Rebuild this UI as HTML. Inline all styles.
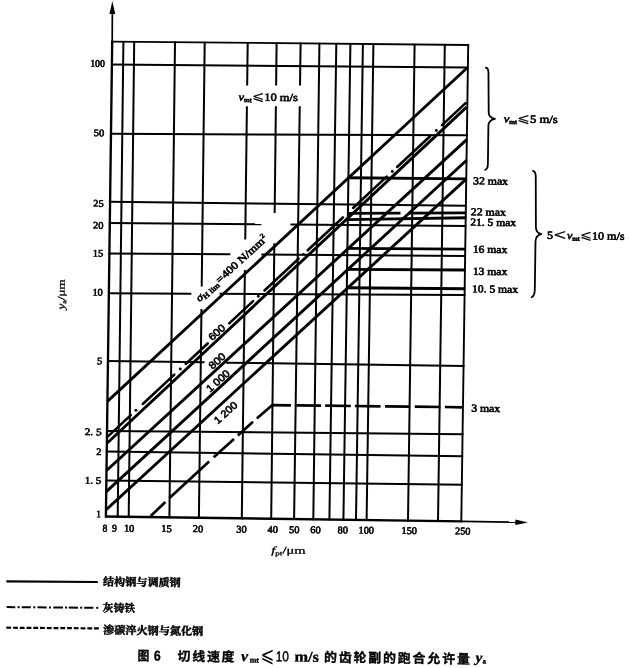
<!DOCTYPE html>
<html lang="zh">
<head>
<meta charset="utf-8">
<title>图 6</title>
<style>
html,body{margin:0;padding:0;background:#fff;}
body{width:630px;height:668px;overflow:hidden;}
svg{display:block;}
text{white-space:pre;}
</style>
</head>
<body>
<svg width="630" height="668" viewBox="0 0 630 668">
<rect x="0" y="0" width="630" height="668" fill="#fff"/>
<g stroke="#000" fill="none" stroke-linecap="butt">
<line x1="112.21" y1="40.8" x2="105.89" y2="517.4" stroke-width="2.35"/>
<line x1="123.41" y1="40.91" x2="117.69" y2="517.56" stroke-width="2"/>
<line x1="134.21" y1="41.02" x2="128.69" y2="517.71" stroke-width="2"/>
<line x1="175.01" y1="41.41" x2="169.39" y2="518.26" stroke-width="2"/>
<line x1="204.71" y1="41.69" x2="201.72" y2="286.5" stroke-width="2"/>
<line x1="201.45" y1="309" x2="198.89" y2="518.66" stroke-width="2"/>
<line x1="247.71" y1="42.1" x2="247.17" y2="85.6" stroke-width="2"/>
<line x1="246.91" y1="106.3" x2="245.26" y2="239.4" stroke-width="2"/>
<line x1="244.88" y1="270" x2="241.79" y2="519.24" stroke-width="2"/>
<line x1="276.61" y1="42.38" x2="276.12" y2="85.6" stroke-width="2"/>
<line x1="275.88" y1="106.3" x2="274.67" y2="213" stroke-width="2"/>
<line x1="274.33" y1="243.3" x2="271.19" y2="519.63" stroke-width="2"/>
<line x1="300.61" y1="42.6" x2="300.02" y2="85.6" stroke-width="2"/>
<line x1="299.74" y1="106.3" x2="294.09" y2="519.94" stroke-width="2"/>
<line x1="319.41" y1="42.78" x2="313.29" y2="520.2" stroke-width="2"/>
<line x1="336.31" y1="42.94" x2="329.39" y2="520.42" stroke-width="2"/>
<line x1="350.41" y1="43.07" x2="343.39" y2="520.61" stroke-width="2"/>
<line x1="362.91" y1="43.19" x2="355.99" y2="520.78" stroke-width="2"/>
<line x1="373.41" y1="43.29" x2="366.59" y2="520.92" stroke-width="2"/>
<line x1="414.61" y1="43.69" x2="407.99" y2="521.48" stroke-width="2"/>
<line x1="444.81" y1="43.98" x2="437.99" y2="521.89" stroke-width="2"/>
<line x1="468.21" y1="44.2" x2="461.29" y2="522.2" stroke-width="1.9"/>
<line x1="111.3" y1="41.59" x2="469.1" y2="45.01" stroke-width="1.8"/>
<line x1="110.99" y1="64.59" x2="468.77" y2="67.41" stroke-width="2"/>
<line x1="110.08" y1="133.8" x2="467.76" y2="135.3" stroke-width="2"/>
<line x1="109.17" y1="201.79" x2="466.77" y2="205.71" stroke-width="2"/>
<line x1="108.89" y1="223.09" x2="261.3" y2="224.33" stroke-width="2"/>
<line x1="290.5" y1="224.57" x2="466.46" y2="226.01" stroke-width="2"/>
<line x1="108.49" y1="253.39" x2="230.3" y2="254.25" stroke-width="2"/>
<line x1="261.3" y1="254.47" x2="466.02" y2="255.91" stroke-width="2"/>
<line x1="107.96" y1="293.3" x2="191.4" y2="293.72" stroke-width="2"/>
<line x1="219.6" y1="293.86" x2="465.44" y2="295.1" stroke-width="2"/>
<line x1="107.06" y1="360.99" x2="204.5" y2="362.33" stroke-width="2"/>
<line x1="226.2" y1="362.63" x2="464.46" y2="365.91" stroke-width="2"/>
<line x1="106.14" y1="430.89" x2="463.44" y2="434.21" stroke-width="2"/>
<line x1="105.86" y1="451.39" x2="463.15" y2="456.31" stroke-width="2"/>
<line x1="105.48" y1="480.49" x2="462.72" y2="484.81" stroke-width="2"/>
<line x1="105" y1="516.49" x2="462.2" y2="521.31" stroke-width="2.35"/>
<line x1="112.2" y1="42" x2="112.35" y2="12.5" stroke-width="1.7"/>
<path d="M112.35 1.2 L115.3 14 L109.4 13.9 Z" fill="#000" stroke="none"/>
<line x1="461.3" y1="521.3" x2="516.5" y2="522.2" stroke-width="1.7"/>
<path d="M528 522.45 L515.3 525.1 L515.4 519.6 Z" fill="#000" stroke="none"/>
<line x1="107.4" y1="401.4" x2="467" y2="68" stroke-width="2.9"/>
<line x1="107" y1="443.2" x2="466.6" y2="107.1" stroke-width="2.9"/>
<line x1="106.6" y1="470.5" x2="466.7" y2="139.6" stroke-width="2.9"/>
<line x1="106.3" y1="491.6" x2="466.6" y2="160.2" stroke-width="2.9"/>
<line x1="106.1" y1="509.8" x2="465.6" y2="179.6" stroke-width="2.9"/>
<line x1="108" y1="436.36" x2="130.8" y2="415.12" stroke-width="2.6" stroke-linecap="round"/>
<line x1="142.8" y1="403.93" x2="174.3" y2="374.58" stroke-width="2.6" stroke-linecap="round"/>
<line x1="185.7" y1="363.96" x2="207.7" y2="343.46" stroke-width="2.6" stroke-linecap="round"/>
<line x1="229.2" y1="323.42" x2="253.1" y2="301.15" stroke-width="2.6" stroke-linecap="round"/>
<line x1="264.5" y1="290.53" x2="298.6" y2="258.75" stroke-width="2.6" stroke-linecap="round"/>
<line x1="307.7" y1="250.27" x2="342.9" y2="217.47" stroke-width="2.6" stroke-linecap="round"/>
<line x1="353.1" y1="207.97" x2="386.7" y2="176.66" stroke-width="2.6" stroke-linecap="round"/>
<line x1="397.1" y1="166.97" x2="430.1" y2="136.22" stroke-width="2.6" stroke-linecap="round"/>
<line x1="442" y1="125.13" x2="465.6" y2="103.14" stroke-width="2.6" stroke-linecap="round"/>
<circle cx="135.9" cy="410.36" r="1.45" fill="#000" stroke="none"/>
<circle cx="180.3" cy="368.99" r="1.45" fill="#000" stroke="none"/>
<circle cx="258.3" cy="296.31" r="1.45" fill="#000" stroke="none"/>
<circle cx="303.3" cy="254.37" r="1.45" fill="#000" stroke="none"/>
<circle cx="392.3" cy="171.44" r="1.45" fill="#000" stroke="none"/>
<circle cx="436.3" cy="130.44" r="1.45" fill="#000" stroke="none"/>
<line x1="150.7" y1="516" x2="165.4" y2="502" stroke-width="2.7"/>
<line x1="169.2" y1="498.2" x2="209.1" y2="461.6" stroke-width="2.7"/>
<line x1="213.7" y1="457.3" x2="234" y2="438.9" stroke-width="2.7"/>
<line x1="237.8" y1="435.5" x2="253" y2="421.7" stroke-width="2.7"/>
<line x1="256.8" y1="418.4" x2="272.4" y2="404.9" stroke-width="2.7"/>
<line x1="271.6" y1="405.1" x2="291" y2="405.3" stroke-width="2.7"/>
<line x1="296.3" y1="405.4" x2="321.1" y2="405.7" stroke-width="2.7"/>
<line x1="325.2" y1="405.7" x2="350.8" y2="406" stroke-width="2.7"/>
<line x1="354.9" y1="406" x2="380.5" y2="406.3" stroke-width="2.7"/>
<line x1="385" y1="406.4" x2="409.4" y2="406.7" stroke-width="2.7"/>
<line x1="414.8" y1="406.7" x2="440.4" y2="407" stroke-width="2.7"/>
<line x1="444.9" y1="407" x2="463" y2="407.3" stroke-width="2.7"/>
<line x1="347.83" y1="177.7" x2="466.86" y2="178.9" stroke-width="2.9"/>
<line x1="347.21" y1="219.6" x2="466.3" y2="217.8" stroke-width="2.9"/>
<line x1="346.79" y1="248.4" x2="465.84" y2="249.1" stroke-width="2.9"/>
<line x1="346.48" y1="269.4" x2="465.54" y2="270" stroke-width="2.9"/>
<line x1="346.21" y1="287.8" x2="465.27" y2="288.8" stroke-width="2.9"/>
<line x1="347.31" y1="213.4" x2="400.5" y2="213.2" stroke-width="2.8"/>
<line x1="409" y1="213.2" x2="466.37" y2="212.9" stroke-width="2.8"/>
</g>
<g stroke="#000" fill="none" stroke-width="1.8" stroke-linecap="round" stroke-linejoin="round">
<path d="M485.9 67.7 C488 68.1 488.4 70 488.45 73 L488.7 112.5 C488.7 116 490.4 118 494.9 118.9 C490.4 119.9 488.5 121.8 488.4 125.5 L487.9 164 C487.8 167.4 487.3 169.1 485.1 169.8"/>
<path d="M533 170.9 C535.2 171.4 535.7 173.3 535.75 176.5 L535.9 227 C535.9 231 537.2 233.2 541.3 234.2 C537.2 235.2 535.6 237.4 535.5 241.5 L534.8 290 C534.7 293.8 534.2 296 531.7 297.2"/>
</g>
<g fill="#000" stroke="#000" stroke-width="0.62" stroke-linejoin="round">
<text x="90.18" y="66.6" font-size="10" font-family="'Liberation Serif','Noto Serif CJK SC',serif" text-anchor="start" font-weight="normal" transform="rotate(0.75 90.18 66.6)" textLength="14.6" lengthAdjust="spacingAndGlyphs">100</text>
<text x="93.79" y="136.1" font-size="10" font-family="'Liberation Serif','Noto Serif CJK SC',serif" text-anchor="start" font-weight="normal" transform="rotate(0.75 93.79 136.1)" textLength="10.4" lengthAdjust="spacingAndGlyphs">50</text>
<text x="93.19" y="206.6" font-size="10" font-family="'Liberation Serif','Noto Serif CJK SC',serif" text-anchor="start" font-weight="normal" transform="rotate(0.75 93.19 206.6)" textLength="10.4" lengthAdjust="spacingAndGlyphs">25</text>
<text x="93" y="228.6" font-size="10" font-family="'Liberation Serif','Noto Serif CJK SC',serif" text-anchor="start" font-weight="normal" transform="rotate(0.75 93 228.6)" textLength="10.4" lengthAdjust="spacingAndGlyphs">20</text>
<text x="92.76" y="256.4" font-size="10" font-family="'Liberation Serif','Noto Serif CJK SC',serif" text-anchor="start" font-weight="normal" transform="rotate(0.75 92.76 256.4)" textLength="10.4" lengthAdjust="spacingAndGlyphs">15</text>
<text x="92.43" y="295.4" font-size="10" font-family="'Liberation Serif','Noto Serif CJK SC',serif" text-anchor="start" font-weight="normal" transform="rotate(0.75 92.43 295.4)" textLength="10.4" lengthAdjust="spacingAndGlyphs">10</text>
<text x="97.05" y="364.2" font-size="10" font-family="'Liberation Serif','Noto Serif CJK SC',serif" text-anchor="start" font-weight="normal" transform="rotate(0.75 97.05 364.2)" textLength="5.2" lengthAdjust="spacingAndGlyphs">5</text>
<text x="84.65" y="435" font-size="10" font-family="'Liberation Serif','Noto Serif CJK SC',serif" text-anchor="start" font-weight="normal" transform="rotate(0.75 84.65 435)" textLength="17" lengthAdjust="spacingAndGlyphs">2. 5</text>
<text x="96.28" y="455.1" font-size="10" font-family="'Liberation Serif','Noto Serif CJK SC',serif" text-anchor="start" font-weight="normal" transform="rotate(0.75 96.28 455.1)" textLength="5.2" lengthAdjust="spacingAndGlyphs">2</text>
<text x="84.83" y="483.5" font-size="10" font-family="'Liberation Serif','Noto Serif CJK SC',serif" text-anchor="start" font-weight="normal" transform="rotate(0.75 84.83 483.5)" textLength="16.4" lengthAdjust="spacingAndGlyphs">1. 5</text>
<text x="96.35" y="517.2" font-size="10" font-family="'Liberation Serif','Noto Serif CJK SC',serif" text-anchor="start" font-weight="normal" transform="rotate(0.75 96.35 517.2)" textLength="4.6" lengthAdjust="spacingAndGlyphs">1</text>
<text x="102.6" y="531.4" font-size="10.2" font-family="'Liberation Serif','Noto Serif CJK SC',serif" text-anchor="start" font-weight="normal" transform="rotate(0.75 102.6 531.4)" textLength="4.8" lengthAdjust="spacingAndGlyphs">8</text>
<text x="112.1" y="531.48" font-size="10.2" font-family="'Liberation Serif','Noto Serif CJK SC',serif" text-anchor="start" font-weight="normal" transform="rotate(0.75 112.1 531.48)" textLength="4.8" lengthAdjust="spacingAndGlyphs">9</text>
<text x="123.9" y="531.59" font-size="10.2" font-family="'Liberation Serif','Noto Serif CJK SC',serif" text-anchor="start" font-weight="normal" transform="rotate(0.75 123.9 531.59)" textLength="10.4" lengthAdjust="spacingAndGlyphs">10</text>
<text x="161.2" y="531.89" font-size="10.2" font-family="'Liberation Serif','Noto Serif CJK SC',serif" text-anchor="start" font-weight="normal" transform="rotate(0.75 161.2 531.89)" textLength="10.4" lengthAdjust="spacingAndGlyphs">15</text>
<text x="192.7" y="532.14" font-size="10.2" font-family="'Liberation Serif','Noto Serif CJK SC',serif" text-anchor="start" font-weight="normal" transform="rotate(0.75 192.7 532.14)" textLength="10.4" lengthAdjust="spacingAndGlyphs">20</text>
<text x="236.3" y="532.49" font-size="10.2" font-family="'Liberation Serif','Noto Serif CJK SC',serif" text-anchor="start" font-weight="normal" transform="rotate(0.75 236.3 532.49)" textLength="10.4" lengthAdjust="spacingAndGlyphs">30</text>
<text x="267.6" y="532.74" font-size="10.2" font-family="'Liberation Serif','Noto Serif CJK SC',serif" text-anchor="start" font-weight="normal" transform="rotate(0.75 267.6 532.74)" textLength="10.4" lengthAdjust="spacingAndGlyphs">40</text>
<text x="289" y="532.91" font-size="10.2" font-family="'Liberation Serif','Noto Serif CJK SC',serif" text-anchor="start" font-weight="normal" transform="rotate(0.75 289 532.91)" textLength="10.4" lengthAdjust="spacingAndGlyphs">50</text>
<text x="310.3" y="533.08" font-size="10.2" font-family="'Liberation Serif','Noto Serif CJK SC',serif" text-anchor="start" font-weight="normal" transform="rotate(0.75 310.3 533.08)" textLength="10.4" lengthAdjust="spacingAndGlyphs">60</text>
<text x="337.6" y="533.3" font-size="10.2" font-family="'Liberation Serif','Noto Serif CJK SC',serif" text-anchor="start" font-weight="normal" transform="rotate(0.75 337.6 533.3)" textLength="10.4" lengthAdjust="spacingAndGlyphs">80</text>
<text x="358.6" y="533.49" font-size="10.2" font-family="'Liberation Serif','Noto Serif CJK SC',serif" text-anchor="start" font-weight="normal" transform="rotate(0.75 358.6 533.49)" textLength="15.4" lengthAdjust="spacingAndGlyphs">100</text>
<text x="401.6" y="533.83" font-size="10.2" font-family="'Liberation Serif','Noto Serif CJK SC',serif" text-anchor="start" font-weight="normal" transform="rotate(0.75 401.6 533.83)" textLength="15.4" lengthAdjust="spacingAndGlyphs">150</text>
<text x="455" y="534.26" font-size="10.2" font-family="'Liberation Serif','Noto Serif CJK SC',serif" text-anchor="start" font-weight="normal" transform="rotate(0.75 455 534.26)" textLength="15.4" lengthAdjust="spacingAndGlyphs">250</text>
<text x="473" y="184.3" font-size="10.6" font-family="'Liberation Serif','Noto Serif CJK SC',serif" text-anchor="start" font-weight="normal" transform="rotate(0.75 473 184.3)" textLength="35" lengthAdjust="spacingAndGlyphs">32 max</text>
<text x="470.8" y="215.3" font-size="10.6" font-family="'Liberation Serif','Noto Serif CJK SC',serif" text-anchor="start" font-weight="normal" transform="rotate(0.75 470.8 215.3)" textLength="35.1" lengthAdjust="spacingAndGlyphs">22 max</text>
<text x="470.3" y="225.6" font-size="10.6" font-family="'Liberation Serif','Noto Serif CJK SC',serif" text-anchor="start" font-weight="normal" transform="rotate(0.75 470.3 225.6)" textLength="45.8" lengthAdjust="spacingAndGlyphs">21. 5 max</text>
<text x="472.7" y="252.6" font-size="10.6" font-family="'Liberation Serif','Noto Serif CJK SC',serif" text-anchor="start" font-weight="normal" transform="rotate(0.75 472.7 252.6)" textLength="34.5" lengthAdjust="spacingAndGlyphs">16 max</text>
<text x="472.7" y="274.7" font-size="10.6" font-family="'Liberation Serif','Noto Serif CJK SC',serif" text-anchor="start" font-weight="normal" transform="rotate(0.75 472.7 274.7)" textLength="34.5" lengthAdjust="spacingAndGlyphs">13 max</text>
<text x="472.1" y="292.2" font-size="10.6" font-family="'Liberation Serif','Noto Serif CJK SC',serif" text-anchor="start" font-weight="normal" transform="rotate(0.75 472.1 292.2)" textLength="45.9" lengthAdjust="spacingAndGlyphs">10. 5 max</text>
<text x="471.2" y="411.6" font-size="10.6" font-family="'Liberation Serif','Noto Serif CJK SC',serif" text-anchor="start" font-weight="normal" transform="rotate(0.75 471.2 411.6)" textLength="29" lengthAdjust="spacingAndGlyphs">3 max</text>
<text x="238.6" y="100.4" font-size="11" font-family="'Liberation Serif','Noto Serif CJK SC',serif" text-anchor="start" font-weight="normal" transform="rotate(0.75 238.6 100.4)" textLength="59.2" lengthAdjust="spacingAndGlyphs"><tspan font-style="italic">v</tspan><tspan font-size="6.4" dy="1.6" font-style="normal">mt</tspan><tspan dy="-1.6" font-size="1"> </tspan><tspan font-family="'DejaVu Sans',sans-serif" font-size="13" stroke-width="0.15">⩽</tspan>10 m/s</text>
<text x="503.7" y="122.3" font-size="11" font-family="'Liberation Serif','Noto Serif CJK SC',serif" text-anchor="start" font-weight="normal" transform="rotate(0.75 503.7 122.3)" textLength="54" lengthAdjust="spacingAndGlyphs"><tspan font-style="italic">v</tspan><tspan font-size="6.4" dy="1.6" font-style="normal">mt</tspan><tspan dy="-1.6" font-size="1"> </tspan><tspan font-family="'DejaVu Sans',sans-serif" font-size="13" stroke-width="0.15">⩽</tspan>5 m/s</text>
<text x="546.9" y="238.8" font-size="11" font-family="'Liberation Serif','Noto Serif CJK SC',serif" text-anchor="start" font-weight="normal" transform="rotate(0.75 546.9 238.8)" textLength="77.7" lengthAdjust="spacingAndGlyphs">5<tspan font-family="'DejaVu Sans',sans-serif" font-size="15" stroke-width="0.1" dy="0.6">&lt;</tspan><tspan dy="-0.6" font-size="1"> </tspan><tspan font-style="italic">v</tspan><tspan font-size="6.4" dy="1.6" font-style="normal">mt</tspan><tspan dy="-1.6" font-size="1"> </tspan><tspan font-family="'DejaVu Sans',sans-serif" font-size="13" stroke-width="0.15">⩽</tspan>10 m/s</text>
<g stroke-width="0.3">
<text x="271.2" y="553.4" font-size="10.2" font-family="'Liberation Serif','Noto Serif CJK SC',serif" text-anchor="start" font-weight="normal" transform="rotate(0.75 271.2 553.4)" textLength="34.4" lengthAdjust="spacingAndGlyphs"><tspan font-style="italic">f</tspan><tspan font-size="6.2" dy="1.7" font-style="normal">pt</tspan><tspan dy="-1.7" font-size="1"> </tspan>/μm</text>
<text x="64.4" y="309.6" font-size="10.2" font-family="'Liberation Serif','Noto Serif CJK SC',serif" transform="rotate(-89.25 64.4 309.6)" textLength="30.2" lengthAdjust="spacingAndGlyphs"><tspan font-style="italic">y</tspan><tspan font-size="6.2" dy="1.7" font-style="normal">a</tspan><tspan dy="-1.7" font-size="1"> </tspan>/μm</text>
</g>
<text x="199.6" y="302.3" font-size="10.7" font-family="'Liberation Serif','Noto Serif CJK SC',serif" transform="rotate(-42.5 199.6 302.3)" textLength="93" lengthAdjust="spacingAndGlyphs"><tspan font-style="italic">σ</tspan><tspan font-size="7.4" dy="1.8">H lim</tspan><tspan dy="-1.8" font-size="2"> </tspan>=<tspan font-size="2"> </tspan>400 N/mm<tspan font-size="6.6" dy="-4.6">2</tspan></text>
<text x="0" y="0" font-size="10.3" font-family="'Liberation Sans','Noto Sans CJK SC',sans-serif" text-anchor="middle" transform="translate(216.6 332.3) rotate(-42.5)" textLength="18.7" lengthAdjust="spacingAndGlyphs" dy="3.7">600</text>
<text x="0" y="0" font-size="10.3" font-family="'Liberation Sans','Noto Sans CJK SC',sans-serif" text-anchor="middle" transform="translate(217 360.8) rotate(-42.5)" textLength="18.7" lengthAdjust="spacingAndGlyphs" dy="3.7">800</text>
<text x="0" y="0" font-size="10.3" font-family="'Liberation Sans','Noto Sans CJK SC',sans-serif" text-anchor="middle" transform="translate(217.8 380.8) rotate(-42)" textLength="27.6" lengthAdjust="spacingAndGlyphs" dy="3.7">1 000</text>
<text x="0" y="0" font-size="10.3" font-family="'Liberation Sans','Noto Sans CJK SC',sans-serif" text-anchor="middle" transform="translate(225.5 412.6) rotate(-42)" textLength="27.6" lengthAdjust="spacingAndGlyphs" dy="3.7">1 200</text>
</g>
<g stroke="#000" fill="none">
<line x1="6.3" y1="581.3" x2="97.8" y2="582.0" stroke-width="2.2"/>
<line x1="6.7" y1="607.1" x2="15.3" y2="607.17" stroke-width="2"/>
<line x1="21.7" y1="607.22" x2="30.8" y2="607.29" stroke-width="2"/>
<line x1="37.5" y1="607.34" x2="46.7" y2="607.41" stroke-width="2"/>
<line x1="53.3" y1="607.46" x2="63" y2="607.53" stroke-width="2"/>
<line x1="68.7" y1="607.58" x2="78" y2="607.65" stroke-width="2"/>
<line x1="84.2" y1="607.7" x2="93.3" y2="607.77" stroke-width="2"/>
<line x1="17.6" y1="607.19" x2="19.6" y2="607.19" stroke-width="2"/>
<line x1="33.3" y1="607.31" x2="35.3" y2="607.31" stroke-width="2"/>
<line x1="49" y1="607.43" x2="51" y2="607.43" stroke-width="2"/>
<line x1="65" y1="607.56" x2="67" y2="607.56" stroke-width="2"/>
<line x1="80.2" y1="607.67" x2="82.2" y2="607.67" stroke-width="2"/>
<line x1="96.2" y1="607.8" x2="98.2" y2="607.8" stroke-width="2"/>
<line x1="6.3" y1="627.7" x2="99" y2="628.4" stroke-width="2.2" stroke-dasharray="4.85 1.9"/>
</g>
<g fill="#000" stroke="#000" stroke-width="0.45">
<text x="103" y="585.5" font-size="10.9" font-family="'Liberation Serif','Noto Serif CJK SC',serif" text-anchor="start" font-weight="bold" transform="rotate(0.75 103 585.5)" textLength="77.7" lengthAdjust="spacingAndGlyphs">结构钢与调质钢</text>
<text x="102.6" y="611.8" font-size="10.9" font-family="'Liberation Serif','Noto Serif CJK SC',serif" text-anchor="start" font-weight="bold" transform="rotate(0.75 102.6 611.8)" textLength="32.4" lengthAdjust="spacingAndGlyphs">灰铸铁</text>
<text x="103" y="633.8" font-size="10.9" font-family="'Liberation Serif','Noto Serif CJK SC',serif" text-anchor="start" font-weight="bold" transform="rotate(0.75 103 633.8)" textLength="100.2" lengthAdjust="spacingAndGlyphs">渗碳淬火钢与氮化钢</text>
</g>
<g fill="#000" stroke="#000" stroke-width="0.35">
<text x="137.4" y="660.3" font-size="12.9" font-family="'Liberation Sans','Noto Sans CJK SC',sans-serif" font-weight="bold" transform="rotate(0.75 137.4 660.3)" textLength="11.8" lengthAdjust="spacingAndGlyphs">图</text>
<text x="153.8" y="660.6" font-size="14.2" font-family="'Liberation Sans','Noto Sans CJK SC',sans-serif" font-weight="bold" transform="rotate(0.75 153.8 660.6)" textLength="6.9" lengthAdjust="spacingAndGlyphs">6</text>
<text x="177.5" y="660.8" font-size="12.9" font-family="'Liberation Sans','Noto Sans CJK SC',sans-serif" font-weight="bold" transform="rotate(0.75 177.5 660.8)" textLength="57" lengthAdjust="spacing">切线速度</text>
<text x="241" y="661" font-size="15" font-family="'Liberation Serif','Noto Serif CJK SC',serif" font-weight="bold" transform="rotate(0.75 241 661)" textLength="7" lengthAdjust="spacingAndGlyphs" font-style="italic">v</text>
<text x="249.8" y="662.6" font-size="8" font-family="'Liberation Serif','Noto Serif CJK SC',serif" font-weight="bold" transform="rotate(0.75 249.8 662.6)" textLength="9.2" lengthAdjust="spacingAndGlyphs">mt</text>
</g>
<g fill="#000" stroke="none">
<text x="260.6" y="661.8" font-size="21" font-family="'DejaVu Sans',sans-serif" font-weight="normal" transform="rotate(0.75 260.6 661.8)" textLength="13.8" lengthAdjust="spacingAndGlyphs">⩽</text>
</g>
<g fill="#000" stroke="#000" stroke-width="0.45">
<text x="275.8" y="661.2" font-size="14.3" font-family="'Liberation Sans','Noto Sans CJK SC',sans-serif" font-weight="normal" transform="rotate(0.75 275.8 661.2)" textLength="13.1" lengthAdjust="spacingAndGlyphs">10</text>
</g>
<g fill="#000" stroke="#000" stroke-width="0.35">
<text x="294.4" y="661.5" font-size="15" font-family="'Liberation Serif','Noto Serif CJK SC',serif" font-weight="bold" transform="rotate(0.75 294.4 661.5)" textLength="24.4" lengthAdjust="spacingAndGlyphs">m/s</text>
<text x="324" y="661.7" font-size="12.9" font-family="'Liberation Sans','Noto Sans CJK SC',sans-serif" font-weight="bold" transform="rotate(0.75 324 661.7)" textLength="145.8" lengthAdjust="spacing">的齿轮副的跑合允许量</text>
<text x="475.6" y="662" font-size="14" font-family="'Liberation Serif','Noto Serif CJK SC',serif" font-weight="bold" transform="rotate(0.75 475.6 662)" textLength="6.8" lengthAdjust="spacingAndGlyphs" font-style="italic">y</text>
<text x="482.6" y="663.6" font-size="7" font-family="'Liberation Serif','Noto Serif CJK SC',serif" font-weight="bold" transform="rotate(0.75 482.6 663.6)" textLength="3.6" lengthAdjust="spacingAndGlyphs">a</text>
</g>
</svg>
</body>
</html>
